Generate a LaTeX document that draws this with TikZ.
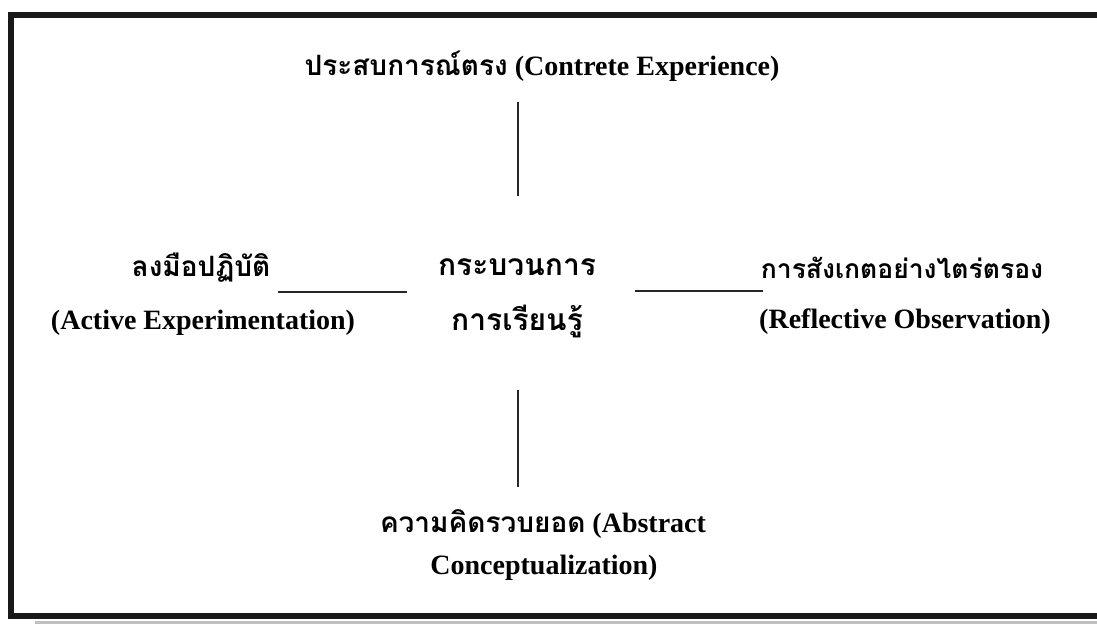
\documentclass[tikz,border=0pt]{standalone}
\usepackage{fontspec}
\setmainfont{Liberation Serif}
\newfontfamily\thaifont[Script=Thai]{Loma}
\begin{document}
\begin{tikzpicture}[x=1pt,y=-1pt,
  lbl/.style={inner sep=0pt,font=\bfseries\fontsize{28}{30}\selectfont},
  thl/.style={inner sep=0pt,font=\thaifont\bfseries\fontsize{28}{30}\selectfont},
  conn/.style={line width=2pt,black!85}]
\useasboundingbox (0,0) rectangle (1097,625);
\fill[white] (0,0) rectangle (1097,625);
% shadow and frame
\draw[line width=3pt,black!25] (35,622) -- (1110,622);
\draw[line width=6pt,black!90] (1120,15) -- (11,15) -- (11,616) -- (1120,616);
% texts
\node[lbl] (top) at (542,66) {{\thaifont ประสบการณ์ตรง} (Contrete Experience)};
\node[thl] (leftth) at (201,268) {ลงมือปฏิบัติ};
\node[lbl] (leften) at (203,323) {(Active Experimentation)};
\node[thl,font=\thaifont\bfseries\fontsize{30}{32}\selectfont] (cen1) at (517,267) {กระบวนการ};
\node[thl,font=\thaifont\bfseries\fontsize{30}{32}\selectfont] (cen2) at (517,321) {การเรียนรู้};
\node[thl,font=\thaifont\bfseries\fontsize{26.5}{30}\selectfont] (rightth) at (902,268) {การสังเกตอย่างไตร่ตรอง};
\node[lbl] (righten) at (905,322) {(Reflective Observation)};
\node[lbl] (bot1) at (543,524) {{\thaifont ความคิดรวบยอด} (Abstract};
\node[lbl] (bot2) at (544,568) {Conceptualization)};
% connectors
\coordinate (ta) at (518,102);
\coordinate (tb) at (518,196);
\coordinate (ba) at (518,390);
\coordinate (bb) at (518,487);
\coordinate (la) at (278,292);
\coordinate (lb) at (407,292);
\coordinate (ra) at (635,291);
\coordinate (rb) at (763,291);
\draw[conn] (ta) -- (tb);
\draw[conn] (ba) -- (bb);
\draw[conn] (la) -- (lb);
\draw[conn] (ra) -- (rb);
\end{tikzpicture}
\end{document}
